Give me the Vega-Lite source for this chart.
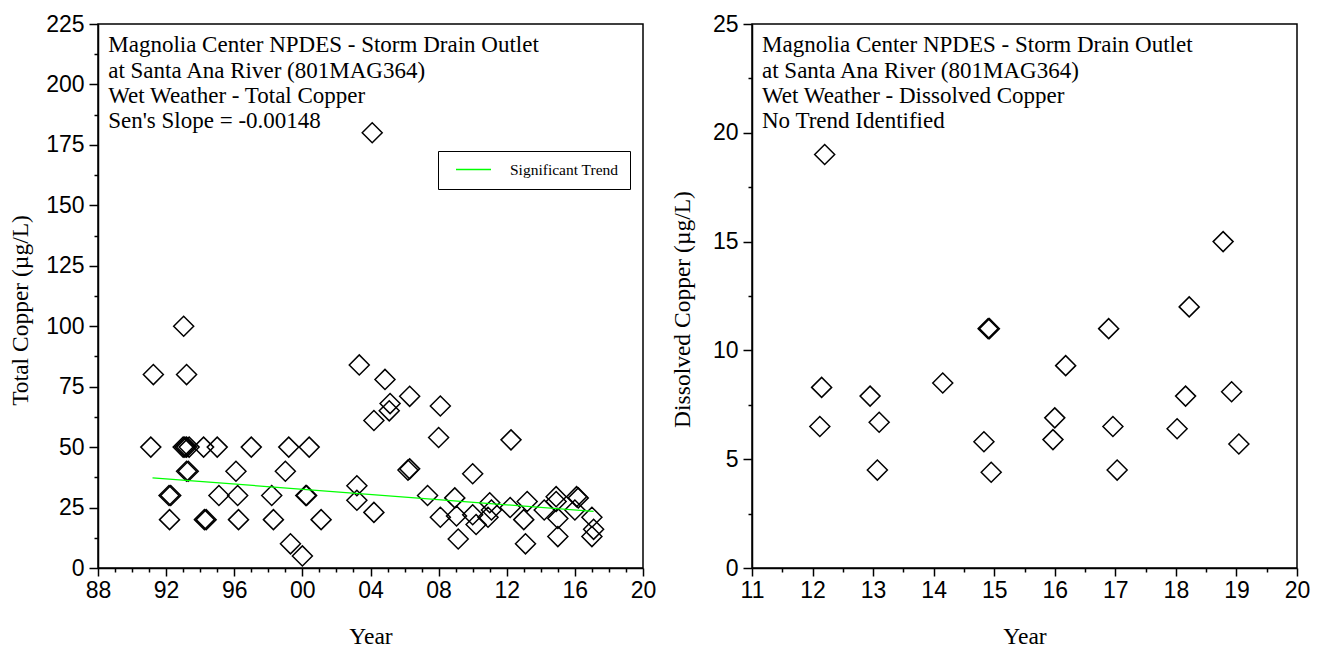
{
  "$schema": "https://vega.github.io/schema/vega-lite/v6.json",
  "padding": {"left": 7, "top": 12, "right": 5, "bottom": 5},
  "background": "white",
  "bounds": "flush",
  "spacing": 109,
  "config": {
    "view": {"stroke": "black", "strokeWidth": 1.5},
    "axis": {
      "grid": false,
      "domainColor": "black",
      "domainWidth": 1.5,
      "tickColor": "black",
      "tickWidth": 1.5,
      "labelFont": "Liberation Sans",
      "labelFontSize": 23,
      "labelColor": "black",
      "labelOverlap": false,
      "labelFlush": false,
      "titleFont": "Liberation Serif",
      "titleFontSize": 23.5,
      "titleFontWeight": "normal",
      "titleColor": "black"
    }
  },
  "datasets": {
    "total": [
      {"year": 1991.1, "copper": 50}, {"year": 1991.25, "copper": 80}, {"year": 1993.03, "copper": 100},
      {"year": 1993.2, "copper": 80}, {"year": 1993.0, "copper": 50}, {"year": 1993.1, "copper": 50},
      {"year": 1993.2, "copper": 50}, {"year": 1993.35, "copper": 50}, {"year": 1994.2, "copper": 50},
      {"year": 1995.0, "copper": 50}, {"year": 1997.0, "copper": 50}, {"year": 1999.2, "copper": 50},
      {"year": 2000.4, "copper": 50}, {"year": 1993.2, "copper": 40}, {"year": 1993.3, "copper": 40},
      {"year": 1996.1, "copper": 40}, {"year": 1999.0, "copper": 40}, {"year": 1992.17, "copper": 30},
      {"year": 1992.27, "copper": 30}, {"year": 1995.1, "copper": 30}, {"year": 1996.2, "copper": 30},
      {"year": 1998.2, "copper": 30}, {"year": 2000.2, "copper": 30}, {"year": 2000.25, "copper": 30},
      {"year": 1992.2, "copper": 20}, {"year": 1994.25, "copper": 20}, {"year": 1994.35, "copper": 20},
      {"year": 1996.25, "copper": 20}, {"year": 1998.3, "copper": 20}, {"year": 2001.1, "copper": 20},
      {"year": 1999.3, "copper": 10}, {"year": 2000.0, "copper": 5}, {"year": 2003.34, "copper": 84},
      {"year": 2003.2, "copper": 34}, {"year": 2003.2, "copper": 28}, {"year": 2004.2, "copper": 23},
      {"year": 2004.85, "copper": 78}, {"year": 2005.15, "copper": 68}, {"year": 2005.1, "copper": 65},
      {"year": 2004.2, "copper": 61}, {"year": 2006.3, "copper": 71}, {"year": 2008.1, "copper": 67},
      {"year": 2008.0, "copper": 54}, {"year": 2012.25, "copper": 53}, {"year": 2006.2, "copper": 40.5},
      {"year": 2006.3, "copper": 41}, {"year": 2010.0, "copper": 39}, {"year": 2007.35, "copper": 30},
      {"year": 2008.95, "copper": 29}, {"year": 2008.1, "copper": 21}, {"year": 2009.05, "copper": 21.5},
      {"year": 2009.15, "copper": 12}, {"year": 2010.0, "copper": 22}, {"year": 2010.2, "copper": 18},
      {"year": 2011.0, "copper": 27}, {"year": 2011.1, "copper": 24}, {"year": 2010.9, "copper": 21},
      {"year": 2012.2, "copper": 25}, {"year": 2013.2, "copper": 27.5}, {"year": 2013.0, "copper": 20},
      {"year": 2013.1, "copper": 10}, {"year": 2014.2, "copper": 24}, {"year": 2014.9, "copper": 29.5},
      {"year": 2014.9, "copper": 27.5}, {"year": 2015.0, "copper": 20.5}, {"year": 2015.0, "copper": 13},
      {"year": 2016.1, "copper": 29.5}, {"year": 2016.2, "copper": 29}, {"year": 2016.0, "copper": 24},
      {"year": 2017.0, "copper": 21}, {"year": 2017.1, "copper": 16}, {"year": 2017.0, "copper": 13},
      {"year": 2004.1, "copper": 180}
    ],
    "trend": [
      {"year": 1991.2, "copper": 37.3, "series": "Significant Trend"},
      {"year": 2017.1, "copper": 23.4, "series": "Significant Trend"}
    ],
    "leftText": [
      {"year": 1988.6, "copper": 216.3, "label": "Magnolia Center NPDES - Storm Drain Outlet"},
      {"year": 1988.6, "copper": 205.6, "label": "at Santa Ana River (801MAG364)"},
      {"year": 1988.6, "copper": 195.2, "label": "Wet Weather - Total Copper"},
      {"year": 1988.6, "copper": 184.9, "label": "Sen's Slope = -0.00148"}
    ],
    "dissolved": [
      {"year": 12.2, "copper": 19.0}, {"year": 12.15, "copper": 8.3}, {"year": 12.12, "copper": 6.5},
      {"year": 12.95, "copper": 7.9}, {"year": 13.1, "copper": 6.7}, {"year": 13.07, "copper": 4.5},
      {"year": 14.15, "copper": 8.5}, {"year": 14.9, "copper": 11.0}, {"year": 14.92, "copper": 11.0},
      {"year": 14.83, "copper": 5.8}, {"year": 14.95, "copper": 4.4}, {"year": 16.18, "copper": 9.3},
      {"year": 16.0, "copper": 6.9}, {"year": 15.97, "copper": 5.9}, {"year": 16.89, "copper": 11.0},
      {"year": 16.96, "copper": 6.5}, {"year": 17.03, "copper": 4.5}, {"year": 18.22, "copper": 12.0},
      {"year": 18.16, "copper": 7.9}, {"year": 18.02, "copper": 6.4}, {"year": 18.78, "copper": 15.0},
      {"year": 18.92, "copper": 8.1}, {"year": 19.04, "copper": 5.7}
    ],
    "rightText": [
      {"year": 11.165, "copper": 24.03, "label": "Magnolia Center NPDES - Storm Drain Outlet"},
      {"year": 11.165, "copper": 22.84, "label": "at Santa Ana River (801MAG364)"},
      {"year": 11.165, "copper": 21.69, "label": "Wet Weather - Dissolved Copper"},
      {"year": 11.165, "copper": 20.54, "label": "No Trend Identified"}
    ]
  },
  "hconcat": [
    {
      "width": 545,
      "height": 544,
      "encoding": {
        "x": {
          "field": "year", "type": "quantitative",
          "scale": {"domain": [1988, 2020], "nice": false, "zero": false},
          "axis": {
            "title": "Year",
            "values": [1988,1989,1990,1991,1992,1993,1994,1995,1996,1997,1998,1999,2000,2001,2002,2003,2004,2005,2006,2007,2008,2009,2010,2011,2012,2013,2014,2015,2016,2017,2018,2019,2020],
            "labelExpr": "datum.value % 4 === 0 ? substring(toString(datum.value), 2) : ''",
            "tickSize": {"condition": {"test": "datum.value % 4 === 0", "value": 8}, "value": 4},
            "labelPadding": 3,
            "titlePadding": 22
          }
        },
        "y": {
          "field": "copper", "type": "quantitative",
          "scale": {"domain": [0, 225], "nice": false, "zero": false},
          "axis": {
            "title": "Total Copper (µg/L)",
            "values": [0,12.5,25,37.5,50,62.5,75,87.5,100,112.5,125,137.5,150,162.5,175,187.5,200,212.5,225],
            "labelExpr": "datum.value % 25 === 0 ? datum.label : ''",
            "tickSize": {"condition": {"test": "datum.value % 25 === 0", "value": 9}, "value": 4},
            "labelPadding": 5,
            "titlePadding": 13,
            "titleY": 286
          }
        }
      },
      "layer": [
        {
          "data": {"name": "total"},
          "mark": {"type": "point", "shape": "diamond", "size": 400, "filled": false, "stroke": "black", "strokeWidth": 1.5, "opacity": 1}
        },
        {
          "data": {"name": "trend"},
          "mark": {"type": "line", "strokeWidth": 1.2},
          "encoding": {
            "color": {
              "field": "series", "type": "nominal",
              "scale": {"domain": ["Significant Trend"], "range": ["#00ff00"]},
              "legend": {
                "title": null,
                "orient": "none",
                "legendX": 340,
                "legendY": 127,
                "strokeColor": "black",
                "padding": 11,
                "clipHeight": 15,
                "symbolType": "stroke",
                "symbolSize": 1225,
                "symbolStrokeWidth": 1.5,
                "symbolOffset": 6,
                "labelFont": "Liberation Serif",
                "labelFontSize": 15.5,
                "labelColor": "black",
                "labelOffset": 18,
                "labelExpr": "datum.label + '\u00a0\u00a0\u00a0\u00a0'"
              }
            }
          }
        },
        {
          "data": {"name": "leftText"},
          "mark": {"type": "text", "align": "left", "baseline": "middle", "font": "Liberation Serif", "fontSize": 23, "color": "black"},
          "encoding": {"text": {"field": "label"}}
        }
      ]
    },
    {
      "width": 545,
      "height": 544,
      "encoding": {
        "x": {
          "field": "year", "type": "quantitative",
          "scale": {"domain": [11, 20], "nice": false, "zero": false},
          "axis": {
            "title": "Year",
            "values": [11,11.5,12,12.5,13,13.5,14,14.5,15,15.5,16,16.5,17,17.5,18,18.5,19,19.5,20],
            "labelExpr": "datum.value % 1 === 0 ? toString(datum.value) : ''",
            "tickSize": {"condition": {"test": "datum.value % 1 === 0", "value": 8}, "value": 4},
            "labelPadding": 3,
            "titlePadding": 22
          }
        },
        "y": {
          "field": "copper", "type": "quantitative",
          "scale": {"domain": [0, 25], "nice": false, "zero": false},
          "axis": {
            "title": "Dissolved Copper (µg/L)",
            "values": [0,2.5,5,7.5,10,12.5,15,17.5,20,22.5,25],
            "labelExpr": "datum.value % 5 === 0 ? toString(datum.value) : ''",
            "tickSize": {"condition": {"test": "datum.value % 5 === 0", "value": 9}, "value": 4},
            "labelPadding": 5,
            "titlePadding": 18,
            "titleY": 285
          }
        }
      },
      "layer": [
        {
          "data": {"name": "dissolved"},
          "mark": {"type": "point", "shape": "diamond", "size": 400, "filled": false, "stroke": "black", "strokeWidth": 1.5, "opacity": 1}
        },
        {
          "data": {"name": "rightText"},
          "mark": {"type": "text", "align": "left", "baseline": "middle", "font": "Liberation Serif", "fontSize": 23, "color": "black"},
          "encoding": {"text": {"field": "label"}}
        }
      ]
    }
  ]
}
